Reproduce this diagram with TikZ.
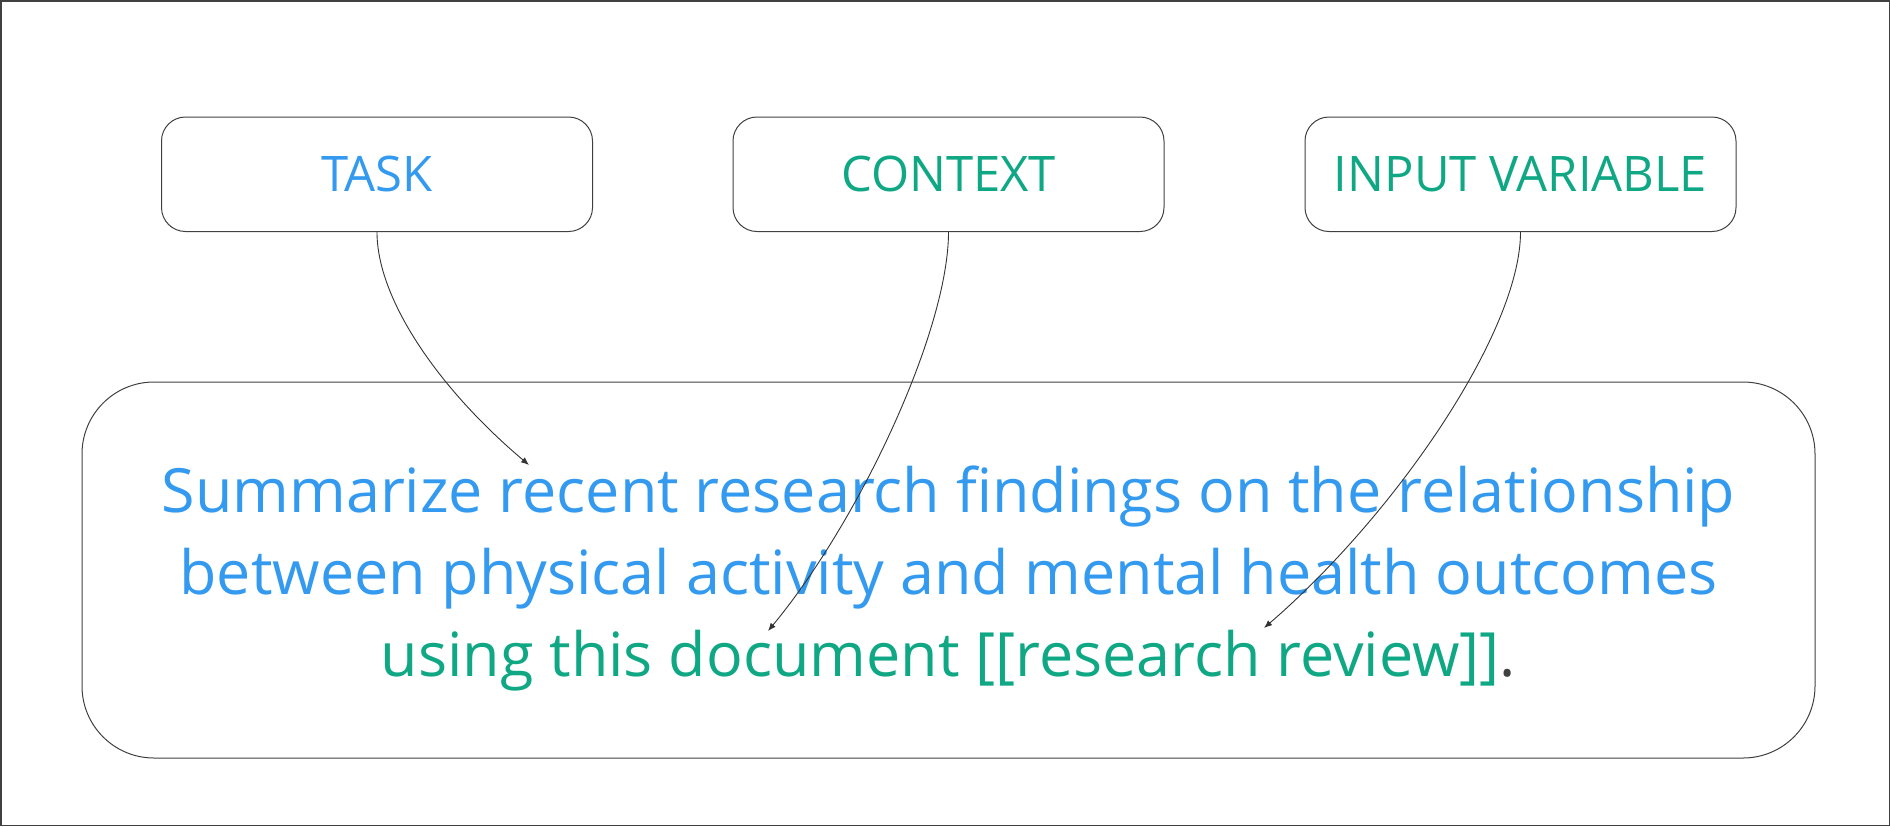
\documentclass[tikz,border=0pt]{standalone}
\usepackage{fontspec}
\setmainfont{Open Sans}
\usetikzlibrary{arrows.meta}
\definecolor{taskblue}{HTML}{339AF0}
\definecolor{ctxgreen}{HTML}{10A884}
\definecolor{edge}{HTML}{404040}
\tikzset{
  labelbox/.style={draw=edge, line width=0.5pt, rounded corners=12pt,
    minimum width=215.5pt, minimum height=57.25pt, inner sep=0pt,
    font=\fontsize{24.5pt}{30pt}\selectfont},
  bigbox/.style={draw=edge, line width=0.5pt, rounded corners=36pt},
  bigline/.style={anchor=base, inner sep=0pt, font=\fontsize{30.5pt}{41pt}\selectfont},
  link/.style={draw=black!80, line width=0.45pt, -{Latex[length=4pt,width=3.2pt]}}
}
\begin{document}
\begin{tikzpicture}[x=0.5pt,y=-0.5pt]
\useasboundingbox (0,0) rectangle (1890,826);
\draw[edge, line width=0.75pt] (0.75,0.75) rectangle (1889.25,825.25);

\node[labelbox, text=taskblue] (task) at (377,174.25) {TASK};
\node[labelbox, text=ctxgreen] (context) at (948.5,174.25) {CONTEXT};
\node[labelbox, text=ctxgreen] (input) at (1520.5,174.25) {INPUT VARIABLE};

\node[bigbox, minimum width=866.5pt, minimum height=188pt] (prompt) at (948.5,570) {};

\node[bigline, text=taskblue] (l1) at (948.5,512) {Summarize recent research findings on the relationship};
\node[bigline, text=taskblue] (l2) at (948.5,594) {between physical activity and mental health outcomes};
\node[bigline, text=ctxgreen] (l3) at (948.5,676) {using this document [[research review]]\textcolor{edge}{.}};

\coordinate (tTask) at (529,465);
\coordinate (tCtx) at (768,631);
\coordinate (tIn) at (1264,628);

\draw[link] (task.south) .. controls +(0,68) and (440,390) .. (tTask);
\draw[link] (context.south) .. controls +(0,98) and (860,520) .. (tCtx);
\draw[link] (input.south) .. controls +(0,100) and (1395,515) .. (tIn);
\end{tikzpicture}
\end{document}
